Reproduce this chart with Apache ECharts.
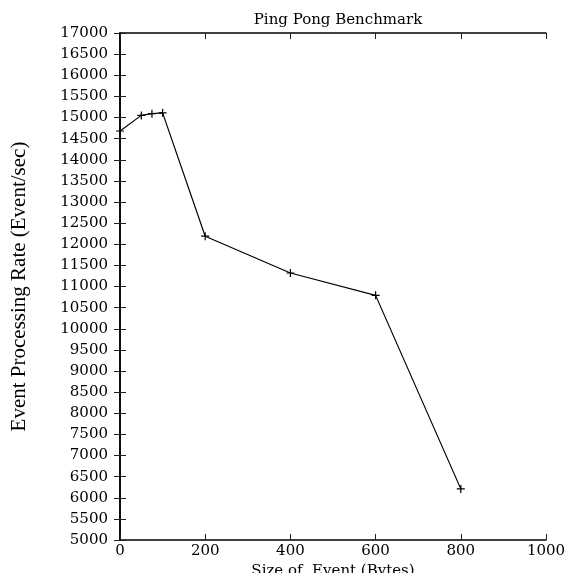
<!DOCTYPE html>
<html>
<head>
<meta charset="utf-8">
<script src="https://cdn.jsdelivr.net/npm/echarts@6/dist/echarts.min.js"></script>
<style>
  html, body { margin: 0; padding: 0; background: #fff; }
  #chart { width: 566px; height: 573px; }
</style>
</head>
<body>
<div id="chart"></div>
<script>
// Event size in bytes and the measured processing rate for each size
const eventSizes = [0, 50, 75, 100, 200, 400, 600, 800];
const eventRates = [14680, 15050, 15090, 15110, 12190, 11320, 10790, 6210];

const FONT = 'DejaVu Serif';
const INK = '#000';

const chart = echarts.init(document.getElementById('chart'), null, { renderer: 'canvas' });

const plusSymbol = 'path://M0,5L10,5M5,0L5,10';

function frameAxis(extra) {
  return Object.assign({
    type: 'value',
    axisLine: { show: true, lineStyle: { color: INK, width: 1.5 } },
    axisTick: { show: true, inside: true, length: 6, lineStyle: { color: '#222', width: 1 } },
    splitLine: { show: false },
    axisLabel: { show: false }
  }, extra);
}

const plain = v => String(v);

chart.setOption({
  animation: false,
  backgroundColor: '#fff',
  title: {
    text: 'Ping Pong Benchmark',
    left: 333,
    top: 8,
    textAlign: 'center',
    textStyle: { fontFamily: FONT, fontSize: 15, fontWeight: 'normal', color: INK }
  },
  grid: { left: 120, right: 20, top: 33, bottom: 33, containLabel: false, outerBoundsMode: 'none' },
  xAxis: [
    frameAxis({
      position: 'bottom',
      min: 0, max: 1000, interval: 200,
      axisLabel: { show: true, color: INK, fontFamily: FONT, fontSize: 15, margin: 4, formatter: plain },
      name: 'Size of  Event (Bytes)',
      nameLocation: 'middle',
      nameGap: 15,
      nameTextStyle: { fontFamily: FONT, fontSize: 15, color: INK }
    }),
    frameAxis({ position: 'top', min: 0, max: 1000, interval: 200 })
  ],
  yAxis: [
    frameAxis({
      position: 'left',
      min: 5000, max: 17000, interval: 500,
      axisLabel: { show: true, color: INK, fontFamily: FONT, fontSize: 15, margin: 12, formatter: plain },
      name: 'Event Processing Rate (Event/sec)',
      nameLocation: 'middle',
      nameGap: 90,
      nameRotate: 90,
      nameTextStyle: { fontFamily: 'Liberation Serif', fontSize: 21, color: INK }
    }),
    frameAxis({ position: 'right', min: 5000, max: 17000, interval: 500 })
  ],
  series: [{
    type: 'line',
    data: eventSizes.map((s, i) => [s, eventRates[i]]),
    symbol: plusSymbol,
    symbolSize: 8,
    showSymbol: true,
    lineStyle: { color: INK, width: 1.2 },
    itemStyle: { color: 'transparent', borderColor: INK, borderWidth: 1.2 },
    emphasis: { disabled: true }
  }]
});
</script>
</body>
</html>
